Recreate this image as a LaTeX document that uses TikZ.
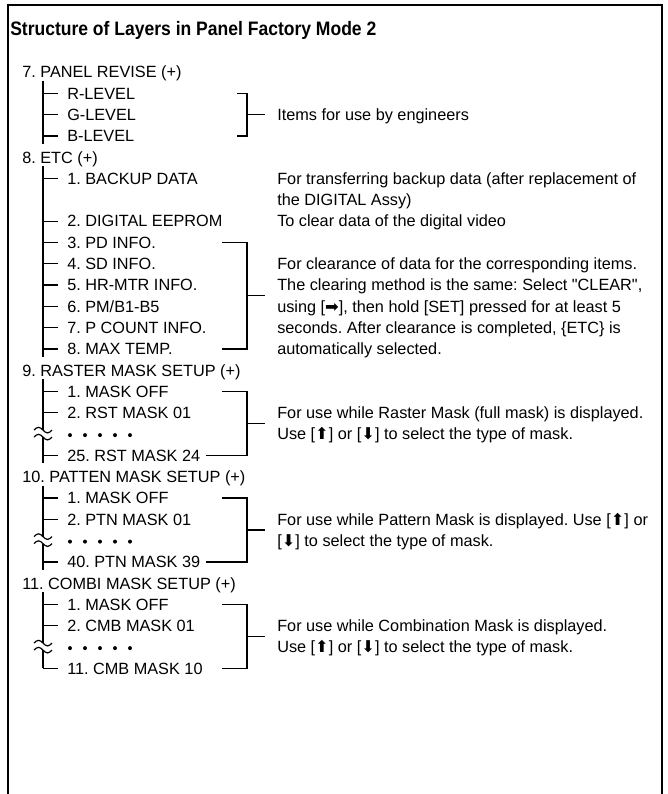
\documentclass[tikz,border=0pt]{standalone}
\usepackage{fontspec}
\setmainfont{Liberation Sans}
\newfontfamily\symfont{DejaVu Sans}
\frenchspacing
\newcommand\bodyfs{\fontsize{12.2pt}{14pt}\selectfont}
\newcommand\titlefs{\fontsize{14.6pt}{17pt}\selectfont\bfseries}
\newcommand\ua{{\symfont ⬆}}
\newcommand\da{{\symfont ⬇}}
\newcommand\ra{{\symfont ➡}}
% level-1 item
\newcommand\lone[3]{\node[txt] (#1) at (22,{72+21.3*(#2)+5.8}) {#3};}
% level-2 item with branch
\newcommand\ltwo[3]{\coordinate (#1b) at (43,{72+21.3*(#2)});
  \node[txt] (#1) at (67,{72+21.3*(#2)+5.8}) {#3};
  \draw[tree] (#1b) -- ++(15,0);}
% right-hand text line
\newcommand\rtxt[3]{\node[txt] (#1) at (277,{72+21.3*(#2)+5.8}) {#3};}
% bracket: name, top row, bottom row, top tick x, bottom tick x
\newcommand\brk[5]{%
  \coordinate (#1ta) at (#4,{72+21.3*(#2)});
  \coordinate (#1tb) at (247,{72+21.3*(#2)});
  \coordinate (#1ba) at (#5,{72+21.3*(#3)});
  \coordinate (#1bb) at (247,{72+21.3*(#3)});
  \coordinate (#1ma) at (247,{72+21.3*((#2)+(#3))/2});
  \coordinate (#1mb) at (265,{72+21.3*((#2)+(#3))/2});
  \draw[tree] (#1ta) -- (#1tb) -- (#1bb) -- (#1ba);
  \draw[tree] (#1ma) -- (#1mb);}
% wavy break with dots: name, row
\newcommand\wavegap[2]{%
  \coordinate (#1a) at (43,{72+21.3*(#2)-4});
  \coordinate (#1b) at (43,{72+21.3*(#2)+3});
  \draw[tree] (34,{72+21.3*(#2)-4}) sin ++(4.5,-2.8) cos ++(4.5,2.8) sin ++(4.5,2.8) cos ++(4.5,-2.8);
  \draw[tree] (34,{72+21.3*(#2)+3}) sin ++(4.5,-2.8) cos ++(4.5,2.8) sin ++(4.5,2.8) cos ++(4.5,-2.8);
  \foreach \k in {0,...,4} \fill (70+15*\k,{72+21.3*(#2)+1}) circle (2);}
\begin{document}
\begin{tikzpicture}[x=0.75pt,y=-0.75pt,
  txt/.style={anchor=base west,inner sep=0pt,font=\bodyfs},
  tree/.style={line width=0.9pt},
  frame/.style={line width=1.9pt}]
\useasboundingbox (0,0) rectangle (668,794);
\draw[frame] (8,794) -- (8,5) -- (662,5) -- (662,794);
\node[anchor=base west,inner sep=0pt,font=\titlefs] (title) at (10,35)
  {\scalebox{0.9}[1]{Structure of Layers in Panel Factory Mode 2}};

% ---- 7. PANEL REVISE
\lone{m7}{0}{7. PANEL REVISE (+)}
\ltwo{rl}{1}{R-LEVEL}
\ltwo{gl}{2}{G-LEVEL}
\ltwo{bl}{3}{B-LEVEL}
\coordinate (m7top) at (43,{72+9});
\coordinate (m7bot) at (43,{72+21.3*3+8});
\draw[tree] (m7top) -- (m7bot);
\brk{bA}{1}{3}{237}{237}
\rtxt{eng}{2}{Items for use by engineers}

% ---- 8. ETC
\lone{m8}{4}{8. ETC (+)}
\ltwo{e1}{5}{1. BACKUP DATA}
\ltwo{e2}{7}{2. DIGITAL EEPROM}
\ltwo{e3}{8}{3. PD INFO.}
\ltwo{e4}{9}{4. SD INFO.}
\ltwo{e5}{10}{5. HR-MTR INFO.}
\ltwo{e6}{11}{6. PM/B1-B5}
\ltwo{e7}{12}{7. P COUNT INFO.}
\ltwo{e8}{13}{8. MAX TEMP.}
\coordinate (m8top) at (43,{72+21.3*4+9});
\coordinate (m8bot) at (43,{72+21.3*13+8});
\draw[tree] (m8top) -- (m8bot);
\rtxt{bk1}{5}{For transferring backup data (after replacement of}
\rtxt{bk2}{6}{the DIGITAL Assy)}
\rtxt{clr}{7}{To clear data of the digital video}
\brk{bB}{8}{13}{222}{222}
\rtxt{cl1}{9}{For clearance of data for the corresponding items.}
\rtxt{cl2}{10}{The clearing method is the same: Select \textquotedbl CLEAR\textquotedbl,}
\rtxt{cl3}{11}{using [\ra], then hold [SET] pressed for at least 5}
\rtxt{cl4}{12}{seconds. After clearance is completed, \{ETC\} is}
\rtxt{cl5}{13}{automatically selected.}

% ---- 9. RASTER MASK SETUP
\lone{m9}{14}{9. RASTER MASK SETUP (+)}
\ltwo{r1}{15}{1. MASK OFF}
\ltwo{r2}{16}{2. RST MASK 01}
\ltwo{r3}{18}{25. RST MASK 24}
\wavegap{wr}{17}
\coordinate (m9top) at (43,{72+21.3*14+9});
\coordinate (m9bot) at (43,{72+21.3*18+8});
\draw[tree] (m9top) -- (wra);
\draw[tree] (wrb) -- (m9bot);
\brk{bC}{15}{18}{222}{206}
\rtxt{ra1}{16}{For use while Raster Mask (full mask) is displayed.}
\rtxt{ra2}{17}{Use [\ua] or [\da] to select the type of mask.}

% ---- 10. PATTEN MASK SETUP
\lone{m10}{19}{10. PATTEN MASK SETUP (+)}
\ltwo{p1}{20}{1. MASK OFF}
\ltwo{p2}{21}{2. PTN MASK 01}
\ltwo{p3}{23}{40. PTN MASK 39}
\wavegap{wp}{22}
\coordinate (m10top) at (43,{72+21.3*19+9});
\coordinate (m10bot) at (43,{72+21.3*23+8});
\draw[tree] (m10top) -- (wpa);
\draw[tree] (wpb) -- (m10bot);
\brk{bD}{20}{23}{222}{206}
\rtxt{pa1}{21}{For use while Pattern Mask is displayed. Use [\ua] or}
\rtxt{pa2}{22}{[\da] to select the type of mask.}

% ---- 11. COMBI MASK SETUP
\lone{m11}{24}{11. COMBI MASK SETUP (+)}
\ltwo{c1}{25}{1. MASK OFF}
\ltwo{c2}{26}{2. CMB MASK 01}
\ltwo{c3}{28}{11. CMB MASK 10}
\wavegap{wc}{27}
\coordinate (m11top) at (43,{72+21.3*24+9});
\coordinate (m11bot) at (43,{72+21.3*28});
\draw[tree] (m11top) -- (wca);
\draw[tree] (wcb) -- (m11bot);
\brk{bE}{25}{28}{222}{222}
\rtxt{co1}{26}{For use while Combination Mask is displayed.}
\rtxt{co2}{27}{Use [\ua] or [\da] to select the type of mask.}
\end{tikzpicture}
\end{document}
